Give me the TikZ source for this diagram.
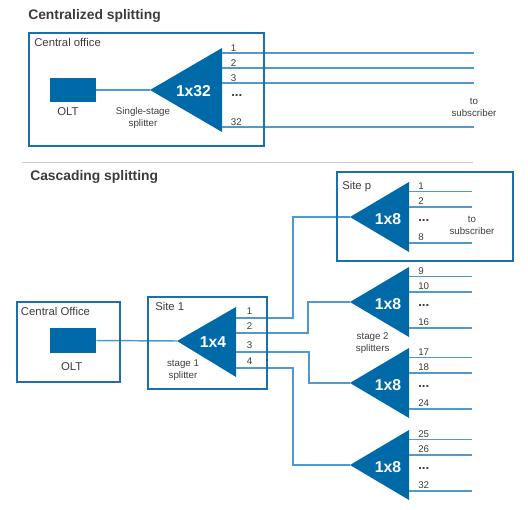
\documentclass[tikz,border=0pt]{standalone}
\usepackage{fontspec}
\setmainfont{Liberation Sans}
\definecolor{splitblue}{RGB}{0,106,168}
\definecolor{frameblue}{RGB}{28,112,170}
\definecolor{fiberblue}{RGB}{78,154,204}
\definecolor{txtgray}{RGB}{60,60,60}
\definecolor{rulegray}{RGB}{205,205,205}
\tikzset{
  title/.style={anchor=base west,inner sep=0pt,text=txtgray,font=\bfseries\fontsize{10.4}{12}\selectfont},
  boxlbl/.style={anchor=base west,inner sep=0pt,text=txtgray,font=\fontsize{8.5}{10}\selectfont},
  note/.style={align=center,inner sep=0pt,text=txtgray,font=\fontsize{7.3}{9}\selectfont},
  port/.style={anchor=base west,inner sep=0pt,text=txtgray,font=\fontsize{7.3}{9}\selectfont},
  dots/.style={anchor=west,inner sep=0pt,text=txtgray,font=\bfseries\fontsize{10}{10}\selectfont},
  ratio/.style={inner sep=0pt,text=white,font=\bfseries\fontsize{11.8}{13}\selectfont},
  site/.style={draw=frameblue,line width=1.2pt},
  olt/.style={fill=splitblue,inner sep=0pt,minimum width=34.5pt,minimum height=18.3pt},
  split/.style={fill=splitblue},
  fiber/.style={draw=fiberblue,line width=1.1pt},
}
\begin{document}
\begin{tikzpicture}[x=0.75pt,y=0.75pt,yscale=-1,xscale=1]
    \useasboundingbox (0,0) rectangle (528,510);

    % Centralized splitting
    \node[title] (ttl1) at (28,19.5) {Centralized splitting};
    \node[boxlbl] (co1) at (34,46.5) {Central office};
    \node[olt] (olt1) at (72.5,90) {};
    \node[boxlbl,anchor=base] (oltl1) at (68,115.7) {OLT};
    \coordinate (sp0) at (150,90);
    \fill[split] (sp0) -- (222,48) -- (222,132) -- cycle;
    \node[ratio] (r0) at (193.5,91.5) {1x32};
    \node[note] (ss) at (143,117.5) {Single-stage\\splitter};
    \draw[fiber] (olt1.east) -- (sp0);
    \foreach \y/\t in {53/1,68/2,83/3,127/32}{
      \coordinate (o0-\t) at (222,\y);
      \coordinate (e0-\t) at (474,\y);
      \draw[fiber] (o0-\t) -- (e0-\t);
      \node[port] (p0-\t) at (230.7,\y-1.5) {\t};
    }
    \node[dots] (d0) at (231,96) {...};
    \node[note] (sub0) at (474,107) {to\\subscriber};

    % separator
    \draw[rulegray,line width=0.75pt] (21.5,162.7) -- (473,162.7);

    % Cascading splitting
    \node[title] (ttl2) at (30,180.5) {Cascading splitting};
    \node[boxlbl] (co2) at (20.7,315.7) {Central Office};
    \node[olt] (olt2) at (73,340.5) {};
    \node[boxlbl,anchor=base] (oltl2) at (71.7,370) {OLT};

    \node[boxlbl] (s1) at (155,310) {Site 1};
    \coordinate (sp1) at (177,341);
    \fill[split] (sp1) -- (236,307) -- (236,377) -- cycle;
    \node[ratio] (r1) at (213,342.5) {1x4};
    \node[note] (st1) at (183,370.5) {stage 1\\splitter};
    \draw[fiber] (olt2.east) -- (sp1);
    \foreach \y/\t in {318/1,333/2,352/3,368/4}{
      \coordinate (s1o\t) at (236,\y);
      \node[port] (p1-\t) at (246.7,\y-4) {\t};
    }

    \node[boxlbl] (sitep) at (342,189.5) {Site p};

    % stage 2 splitters
    \foreach \s/\ty/\pa/\pb/\pc in {sp/217/1/2/8,sa/302/9/10/16,sb/383/17/18/24,sc/465/25/26/32}{
      \coordinate (\s) at (350,\ty);
      \fill[split] (\s) -- (409,\ty-35) -- (409,\ty+35) -- cycle;
      \node[ratio] (\s-r) at (388,\ty+2) {1x8};
      \foreach \dy/\t in {-25.5/\pa,-10/\pb,26/\pc}{
        \coordinate (\s-o\t) at (409,\ty+\dy);
        \coordinate (\s-e\t) at (472,\ty+\dy);
        \draw[fiber] (\s-o\t) -- (\s-e\t);
        \node[port] (\s-p\t) at (418,\ty+\dy-2.5) {\t};
      }
      \node[dots] (\s-d) at (418,\ty+3.5) {...};
    }
    \node[note] (sub1) at (472,225.5) {to\\subscriber};
    \node[note] (st2) at (372.7,343.5) {stage 2\\splitters};

    % stage 1 to stage 2
    \draw[fiber] (s1o1) -| (293,217) -- (sp);
    \draw[fiber] (s1o2) -| (308,302) -- (sa);
    \draw[fiber] (s1o3) -| (309,383) -- (sb);
    \draw[fiber] (s1o4) -| (293,465) -- (sc);

    % frames
    \draw[site] (29,33) rectangle (264,146);
    \draw[site] (17,302) rectangle (120,382);
    \draw[site] (148,297) rectangle (267,389);
    \draw[site] (337,172) rectangle (513,261);
\end{tikzpicture}
\end{document}
